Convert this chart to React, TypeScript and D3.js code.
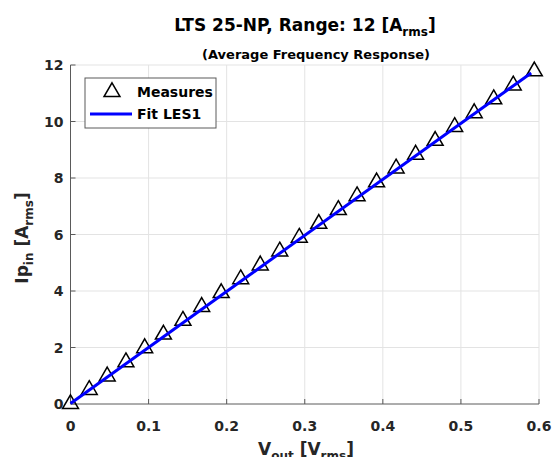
import * as d3 from "d3";
import React from "react";

// measured points (Vout [Vrms], Ip_in [Arms])
const measVout = [0, 0.024, 0.047, 0.071, 0.095, 0.119, 0.144, 0.168, 0.193, 0.218, 0.243, 0.268, 0.293,
  0.318, 0.343, 0.367, 0.392, 0.417, 0.442, 0.467, 0.492, 0.517, 0.542, 0.567, 0.594];
const measIp = [0, 0.5, 0.98, 1.48, 1.98, 2.46, 2.95, 3.44, 3.93, 4.42, 4.91, 5.4, 5.89,
  6.38, 6.87, 7.36, 7.85, 8.34, 8.83, 9.32, 9.81, 10.3, 10.79, 11.28, 11.78];

// fit LES1 line ends
const fitVout = [0, 0.59];
const fitIp = [0.02, 11.72];

const xTicks = [0, 0.1, 0.2, 0.3, 0.4, 0.5, 0.6];
const yTicks = [0, 2, 4, 6, 8, 10, 12];

const W = 555;
const H = 457;
const FONT = "'DejaVu Sans', Verdana, sans-serif";

const App = () => {
  const x = d3.scaleLinear().domain([0, 0.6]).range([70.5, 539]);
  const y = d3.scaleLinear().domain([0, 12]).range([404, 65]);

  const line = d3.line<number>()
    .x((d, i) => x(fitVout[i]))
    .y(d => y(d));

  const tri = d3.symbol().type(d3.symbolTriangle).size(110)();

  const axisColor = "#5a5a5a";
  const textColor = "#262626";

  return (
    <svg width={W} height={H} style={{ position: "absolute", left: 0, top: 0, background: "#fff" }}
      fontFamily={FONT}>
      {/* grid */}
      <g stroke="#e3e3e3" strokeWidth={1}>
        {xTicks.slice(1).map(t => (
          <line key={"gx" + t} x1={x(t)} x2={x(t)} y1={y(0)} y2={y(12)} />
        ))}
        {yTicks.slice(1).map(t => (
          <line key={"gy" + t} x1={x(0)} x2={x(0.6)} y1={y(t)} y2={y(t)} />
        ))}
      </g>

      {/* axes */}
      <g stroke={axisColor} strokeWidth={1}>
        <line x1={x(0)} x2={x(0)} y1={y(0)} y2={y(12)} />
        <line x1={x(0)} x2={x(0.6)} y1={y(0)} y2={y(0)} />
        {xTicks.map(t => (
          <line key={"tx" + t} x1={x(t)} x2={x(t)} y1={y(0)} y2={y(0) - 5} />
        ))}
        {yTicks.map(t => (
          <line key={"ty" + t} x1={x(0)} x2={x(0) + 5} y1={y(t)} y2={y(t)} />
        ))}
      </g>

      {/* tick labels */}
      <g fill={textColor} fontWeight="bold" fontSize={14}>
        {xTicks.map(t => (
          <text key={"lx" + t} x={x(t)} y={431} textAnchor="middle">{String(t)}</text>
        ))}
        {yTicks.map(t => (
          <text key={"ly" + t} x={x(0) - 7} y={y(t) + 5} textAnchor="end">{String(t)}</text>
        ))}
      </g>

      {/* measures */}
      <g fill="none" stroke="#000" strokeWidth={1.5}>
        {measVout.map((v, i) => (
          <path key={"m" + i} d={tri as string} transform={`translate(${x(v)},${y(measIp[i])})`} />
        ))}
      </g>

      {/* fit */}
      <path d={line(fitIp) as string} fill="none" stroke="#0000ff" strokeWidth={3} />

      {/* legend */}
      <g>
        <rect x={85} y={78} width={131} height={50} fill="#fff" stroke={axisColor} strokeWidth={1} />
        <path d={tri as string} transform="translate(112,92)" fill="none" stroke="#000" strokeWidth={1.5} />
        <line x1={90} x2={132} y1={114} y2={114} stroke="#0000ff" strokeWidth={3} />
        <text x={137} y={97} fontSize={14} fontWeight="bold" fill="#000">Measures</text>
        <text x={137} y={119} fontSize={14} fontWeight="bold" fill="#000">Fit LES1</text>
      </g>

      {/* title */}
      <text x={305} y={31} textAnchor="middle" fontSize={17} fontWeight="bold" fill="#000">
        LTS 25-NP, Range: 12 [A<tspan fontSize={12} dy={5}>rms</tspan><tspan dy={-5}>]</tspan>
      </text>
      <text x={316} y={59} textAnchor="middle" fontSize={13} fontWeight="bold" fill="#000">
        (Average Frequency Response)
      </text>

      {/* axis labels */}
      <text transform="translate(28,238) rotate(-90)" textAnchor="middle" fontSize={17} fontWeight="bold" fill={textColor}>
        Ip<tspan fontSize={12} dy={5}>in</tspan><tspan dy={-5}> [A</tspan><tspan fontSize={12} dy={5}>rms</tspan><tspan dy={-5}>]</tspan>
      </text>
      <text x={306} y={455} textAnchor="middle" fontSize={17} fontWeight="bold" fill={textColor}>
        V<tspan fontSize={12} dy={5}>out</tspan><tspan dy={-5}> [V</tspan><tspan fontSize={12} dy={5}>rms</tspan><tspan dy={-5}>]</tspan>
      </text>
    </svg>
  );
};

export default App;
